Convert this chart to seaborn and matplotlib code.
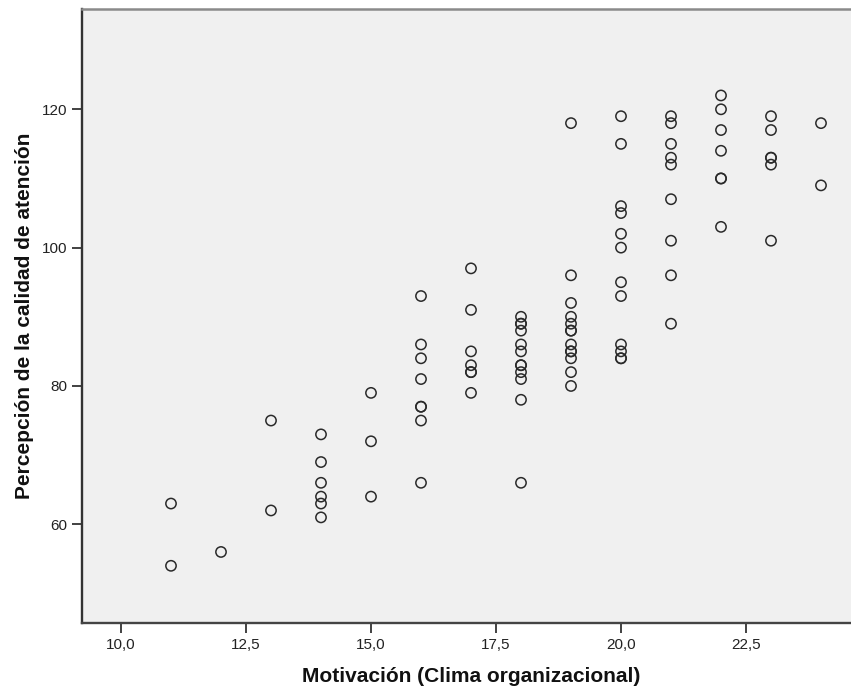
import matplotlib
matplotlib.use("Agg")
import matplotlib.pyplot as plt
import seaborn as sns
import pandas as pd
from matplotlib.ticker import FuncFormatter

# Data (x = Motivación, y = Percepción), grouped by x value
motivacion_11 = [63, 54]
motivacion_12 = [56]
motivacion_13 = [75, 62]
motivacion_14 = [73, 69, 66, 64, 63, 61]
motivacion_15 = [79, 72, 64]
motivacion_16 = [93, 86, 84, 81, 77, 77, 75, 66]
motivacion_17 = [97, 91, 85, 83, 82, 82, 79]
motivacion_18 = [90, 89, 89, 88, 86, 85, 83, 83, 82, 81, 78, 66]
motivacion_19 = [118, 96, 92, 90, 89, 88, 88, 86, 85, 85, 84, 82, 80]
motivacion_20 = [119, 115, 106, 105, 102, 100, 95, 93, 86, 85, 84, 84]
motivacion_21 = [119, 118, 115, 113, 112, 107, 101, 96, 89]
motivacion_22 = [122, 120, 117, 114, 110, 110, 103]
motivacion_23 = [119, 117, 113, 113, 112, 101]
motivacion_24 = [118, 109]

groups = {
    11: motivacion_11, 12: motivacion_12, 13: motivacion_13, 14: motivacion_14,
    15: motivacion_15, 16: motivacion_16, 17: motivacion_17, 18: motivacion_18,
    19: motivacion_19, 20: motivacion_20, 21: motivacion_21, 22: motivacion_22,
    23: motivacion_23, 24: motivacion_24,
}
xs, ys = [], []
for k, vals in groups.items():
    for v in vals:
        xs.append(k)
        ys.append(v)
df = pd.DataFrame({"Motivación": xs, "Percepción": ys})

x_ticks = [10.0, 12.5, 15.0, 17.5, 20.0, 22.5]
y_ticks = [60, 80, 100, 120]

sns.set_style("ticks")
plt.rcParams['font.family'] = ['Liberation Sans', 'DejaVu Sans']

fig = plt.figure(figsize=(8.51, 6.90), dpi=100)
ax = fig.add_axes([81.5 / 851, 1 - 623 / 690, (851 - 81.5) / 851, (623 - 9) / 690])
ax.set_facecolor("#f0f0f0")

sns.scatterplot(data=df, x="Motivación", y="Percepción", ax=ax,
                marker="o", s=55, facecolor="none", edgecolor="#2a2a2a",
                linewidth=1.1, legend=False)

ax.set_xlim(9.21, 24.6)
ax.set_ylim(45.73, 134.5)
ax.set_xticks(x_ticks)
ax.set_yticks(y_ticks)
ax.xaxis.set_major_formatter(FuncFormatter(lambda v, p: f"{v:.1f}".replace(".", ",")))
ax.tick_params(axis="both", direction="out", length=7.5, width=1.3, color="#333333",
               labelsize=11, labelcolor="#222222", pad=3)

ax.spines["left"].set_color("#333333")
ax.spines["bottom"].set_color("#444444")
ax.spines["left"].set_linewidth(1.7)
ax.spines["bottom"].set_linewidth(1.7)
ax.spines["top"].set_color("#8a8a8a")
ax.spines["top"].set_linewidth(1.8)
ax.spines["right"].set_visible(False)

ax.set_xlabel("Motivación (Clima organizacional)", fontsize=15, fontweight="bold",
              color="#111111")
ax.set_ylabel("Percepción de la calidad de atención", fontsize=15, fontweight="bold",
              color="#111111")
ax.xaxis.set_label_coords(0.507, -0.072)
ax.yaxis.set_label_coords(-0.0615, 0.5)

fig.savefig("out.png", dpi=100)
